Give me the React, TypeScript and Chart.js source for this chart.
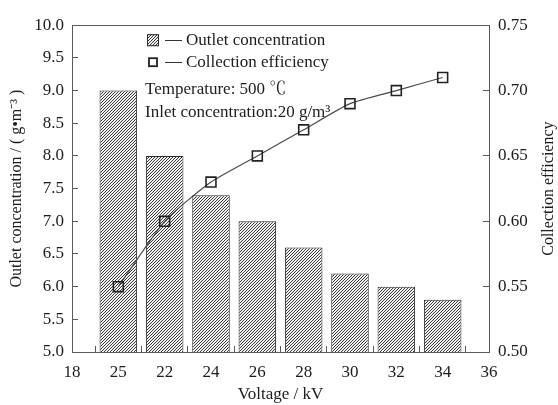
import React, { useEffect, useRef } from 'react';
import { Chart, registerables } from 'chart.js';

Chart.register(...registerables);

// Measured series: outlet concentration (left axis) and collection efficiency (right axis)
const voltage = [20, 22, 24, 26, 28, 30, 32, 34];
const outletConcentration = [9.0, 8.0, 7.4, 7.0, 6.6, 6.2, 6.0, 5.8];
const collectionEfficiency = [0.55, 0.6, 0.63, 0.65, 0.67, 0.69, 0.7, 0.71];

// Voltage axis labels as printed under each position
const xTickValues = [18, 20, 22, 24, 26, 28, 30, 32, 34, 36];
const xTickLabels = ['18', '25', '22', '24', '26', '28', '30', '32', '34', '36'];

const legendLabels = ['Outlet concentration', 'Collection efficiency'];
const noteLines = ['Temperature: 500 ℃', 'Inlet concentration:20 g/m³'];

const FONT = "'Liberation Serif', 'Times New Roman', 'Noto Serif CJK SC', 'Noto Sans CJK SC', serif";
const AXIS = '#5a5a5a';
const TEXT = '#1c1c1c';

// diagonal "/" hatching used to fill the bars
function makeHatch(): CanvasPattern | string {
  const n = 3;
  const c = document.createElement('canvas');
  c.width = n;
  c.height = n;
  const g = c.getContext('2d');
  if (!g) return '#999';
  g.fillStyle = '#f2f2f2';
  g.fillRect(0, 0, n, n);
  g.fillStyle = '#3a3a3a';
  for (let y = 0; y < n; y++) {
    g.fillRect(n - 1 - y, y, 1, 1);
  }
  return g.createPattern(c, 'repeat') || '#999';
}

const decorations = {
  id: 'decorations',
  beforeDraw(chart: any) {
    const { ctx, width, height } = chart;
    ctx.save();
    ctx.fillStyle = '#ffffff';
    ctx.fillRect(0, 0, width, height);
    ctx.restore();
  },
  afterDraw(chart: any) {
    const { ctx, chartArea } = chart;
    const { left, right, top, bottom } = chartArea;
    const barDs = chart.data.datasets[0];
    const lineDs = chart.data.datasets[1];
    ctx.save();

    // top edge of the frame
    ctx.strokeStyle = AXIS;
    ctx.lineWidth = 1;
    ctx.beginPath();
    ctx.moveTo(left, Math.round(top) + 0.5);
    ctx.lineTo(right, Math.round(top) + 0.5);
    ctx.stroke();

    // legend rows
    const markX = left + 75;
    const dashX0 = left + 93;
    const dashX1 = left + 110;
    const textX = left + 114;
    const rows = [top + 15, top + 37];

    ctx.fillStyle = barDs.backgroundColor;
    ctx.fillRect(markX, rows[0] - 6, 12, 12);
    ctx.strokeStyle = barDs.borderColor;
    ctx.lineWidth = 1;
    ctx.strokeRect(markX + 0.5, rows[0] - 5.5, 11, 11);

    ctx.strokeStyle = lineDs.pointBorderColor;
    ctx.lineWidth = 1.8;
    ctx.strokeRect(markX + 2, rows[1] - 4, 8, 8);

    ctx.strokeStyle = '#333';
    ctx.lineWidth = 1;
    rows.forEach((y) => {
      ctx.beginPath();
      ctx.moveTo(dashX0, Math.round(y) + 0.5);
      ctx.lineTo(dashX1, Math.round(y) + 0.5);
      ctx.stroke();
    });

    ctx.fillStyle = TEXT;
    ctx.font = `17px ${FONT}`;
    ctx.textAlign = 'left';
    ctx.textBaseline = 'middle';
    legendLabels.forEach((t, i) => ctx.fillText(t, textX, rows[i]));

    // operating conditions
    ctx.fillText(noteLines[0], left + 73, top + 64);
    ctx.fillText(noteLines[1], left + 73, top + 87);

    // right axis title, reading bottom to top
    ctx.save();
    ctx.translate(right + 60, (top + bottom) / 2);
    ctx.rotate(-Math.PI / 2);
    ctx.textAlign = 'center';
    ctx.font = `16px ${FONT}`;
    ctx.fillText('Collection efficiency', 0, 0);
    ctx.restore();

    ctx.restore();
  },
};

export default function App() {
  const canvasRef = useRef<HTMLCanvasElement | null>(null);

  useEffect(() => {
    const canvas = canvasRef.current;
    if (!canvas) return;
    const hatch = makeHatch();

    const chart = new Chart(canvas, {
      type: 'bar',
      data: {
        datasets: [
          {
            type: 'bar',
            label: legendLabels[0],
            data: voltage.map((v, i) => ({ x: v, y: outletConcentration[i] })),
            backgroundColor: hatch as any,
            borderColor: '#2a2a2a',
            borderWidth: 1,
            // each bar slot spans two unit ticks of the voltage axis
            barPercentage: 0.81,
            categoryPercentage: 2,
            yAxisID: 'y',
            order: 2,
          },
          {
            type: 'line',
            label: legendLabels[1],
            data: voltage.map((v, i) => ({ x: v, y: collectionEfficiency[i] })),
            borderColor: '#4a4a4a',
            borderWidth: 1.2,
            tension: 0.2,
            pointStyle: 'rect',
            pointRadius: 7,
            pointBorderWidth: 1.6,
            pointBorderColor: '#222',
            pointBackgroundColor: 'rgba(0,0,0,0)',
            yAxisID: 'y2',
            order: 1,
          } as any,
        ],
      },
      options: {
        responsive: false,
        animation: false,
        devicePixelRatio: 1,
        layout: { padding: { top: 16, left: 0, right: 0, bottom: 0 } },
        plugins: { legend: { display: false }, tooltip: { enabled: false } },
        scales: {
          x: {
            type: 'linear',
            min: 18,
            max: 36,
            offset: false,
            afterFit: (s: any) => {
              s.height = 53;
            },
            afterBuildTicks: (s: any) => {
              const ticks = [];
              for (let v = 18; v <= 36; v += 1) ticks.push({ value: v });
              s.ticks = ticks;
            },
            ticks: {
              autoSkip: false,
              maxRotation: 0,
              padding: 16,
              color: TEXT,
              font: { family: FONT, size: 17 },
              callback: (v: any) => {
                const i = xTickValues.indexOf(Number(v));
                return i >= 0 ? xTickLabels[i] : '';
              },
            },
            grid: {
              offset: false,
              drawOnChartArea: false,
              drawTicks: true,
              tickLength: -6,
              tickWidth: 1,
              tickColor: (c: any) => (c.tick && Math.round(c.tick.value) % 2 !== 0 ? AXIS : 'rgba(0,0,0,0)'),
            },
            border: { display: true, color: AXIS, width: 1 },
            title: {
              display: true,
              text: 'Voltage / kV',
              color: TEXT,
              font: { family: FONT, size: 17 },
              padding: { top: 1, bottom: 0 },
            },
          },
          y: {
            type: 'linear',
            position: 'left',
            min: 5,
            max: 10,
            afterFit: (s: any) => {
              s.width = 72;
            },
            ticks: {
              stepSize: 0.5,
              padding: 14,
              color: TEXT,
              font: { family: FONT, size: 17 },
              callback: (v: any) => Number(v).toFixed(1),
            },
            grid: {
              drawOnChartArea: false,
              tickLength: -6,
              tickColor: AXIS,
            },
            border: { display: true, color: AXIS, width: 1 },
            title: {
              display: true,
              text: 'Outlet concentration / ( g•m⁻³ )',
              color: TEXT,
              font: { family: FONT, size: 16 },
              padding: { top: 7, bottom: 0 },
            },
          },
          y2: {
            type: 'linear',
            position: 'right',
            min: 0.5,
            max: 0.75,
            afterFit: (s: any) => {
              s.width = 69;
            },
            ticks: {
              stepSize: 0.05,
              padding: 15,
              color: TEXT,
              font: { family: FONT, size: 17 },
              callback: (v: any) => Number(v).toFixed(2),
            },
            grid: {
              drawOnChartArea: false,
              tickLength: -6,
              tickColor: AXIS,
            },
            border: { display: true, color: AXIS, width: 1 },
          },
        },
      } as any,
      plugins: [decorations],
    });

    return () => chart.destroy();
  }, []);

  return (
    <div style={{ position: 'absolute', left: 0, top: 0, width: 558, height: 405 }}>
      <canvas ref={canvasRef} width={558} height={405} />
    </div>
  );
}
